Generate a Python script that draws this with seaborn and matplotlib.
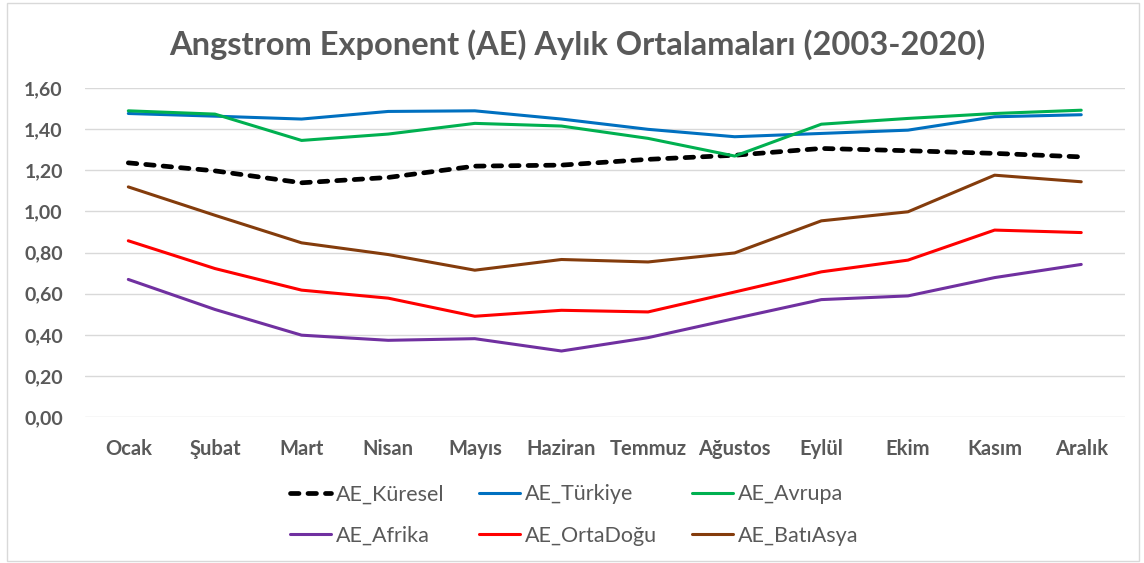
import seaborn as sns
import matplotlib.pyplot as plt
import matplotlib.patches as mpatches
import pandas as pd

months = ['Ocak', 'Şubat', 'Mart', 'Nisan', 'Mayıs', 'Haziran', 'Temmuz',
          'Ağustos', 'Eylül', 'Ekim', 'Kasım', 'Aralık']
kuresel = [1.236, 1.197, 1.139, 1.165, 1.220, 1.225, 1.253, 1.273, 1.306, 1.295, 1.282, 1.265]
turkiye = [1.476, 1.463, 1.449, 1.486, 1.489, 1.449, 1.399, 1.363, 1.379, 1.395, 1.460, 1.470]
avrupa = [1.489, 1.473, 1.345, 1.376, 1.428, 1.415, 1.355, 1.269, 1.424, 1.452, 1.476, 1.492]
afrika = [0.669, 0.523, 0.398, 0.373, 0.381, 0.321, 0.386, 0.479, 0.571, 0.589, 0.678, 0.742]
ortadogu = [0.857, 0.722, 0.617, 0.578, 0.490, 0.519, 0.511, 0.608, 0.706, 0.763, 0.909, 0.897]
batiasya = [1.119, 0.981, 0.847, 0.790, 0.714, 0.766, 0.754, 0.798, 0.954, 0.998, 1.176, 1.144]

series = {
    'AE_Küresel': kuresel,
    'AE_Türkiye': turkiye,
    'AE_Avrupa': avrupa,
    'AE_Afrika': afrika,
    'AE_OrtaDoğu': ortadogu,
    'AE_BatıAsya': batiasya,
}
colors = {
    'AE_Küresel': '#000000',
    'AE_Türkiye': '#0070C0',
    'AE_Avrupa': '#00B050',
    'AE_Afrika': '#7030A0',
    'AE_OrtaDoğu': '#FF0000',
    'AE_BatıAsya': '#843C0C',
}

sns.set_style('white')
plt.rcParams['font.family'] = ['Lato', 'DejaVu Sans']
grey = '#595959'

fig = plt.figure(figsize=(11.44, 5.63), dpi=100)
ax = fig.add_axes([0.0743, 0.2593, 0.9087, 0.5844])

for name, vals in series.items():
    df = pd.DataFrame({'ay': range(len(months)), 'deger': vals})
    if name == 'AE_Küresel':
        sns.lineplot(data=df, x='ay', y='deger', ax=ax, color=colors[name],
                     linewidth=3.4, label=name, linestyle=(0, (1.8, 1.9)),
                     dash_capstyle='round')
    else:
        sns.lineplot(data=df, x='ay', y='deger', ax=ax, color=colors[name],
                     linewidth=2.2, label=name)

ax.set_xlim(-0.5, 11.5)
ax.set_ylim(0, 1.6)
ax.set_yticks([i * 0.2 for i in range(9)])
ax.set_yticklabels([f'{i * 0.2:.2f}'.replace('.', ',') for i in range(9)])
ax.set_xticks(range(len(months)))
ax.set_xticklabels(months)
ax.grid(axis='y', color='#D9D9D9', linewidth=1)
ax.set_axisbelow(True)
for s in ax.spines.values():
    s.set_visible(False)
ax.tick_params(axis='both', length=0, labelcolor=grey)
ax.tick_params(axis='y', pad=16, labelsize=14)
ax.tick_params(axis='x', pad=16, labelsize=14.5)
for lab in ax.get_xticklabels() + ax.get_yticklabels():
    lab.set_fontweight('bold')
ax.set_xlabel('')
ax.set_ylabel('')

ax.get_legend().remove()
handles, labels = ax.get_legend_handles_labels()
order = [0, 3, 1, 4, 2, 5]
fig.legend([handles[i] for i in order], [labels[i] for i in order], ncol=3, loc='center',
           bbox_to_anchor=(0.502, 0.085), frameon=False, fontsize=15.5, labelcolor=grey,
           handlelength=1.9, handletextpad=0.25, columnspacing=1.6, labelspacing=1.0)

fig.suptitle('Angstrom Exponent (AE) Aylık Ortalamaları (2003-2020)', x=0.505, y=0.948,
             fontsize=23.5, fontweight='bold', color=grey)

fig.patches.append(mpatches.Rectangle((0.006, 0.004), 0.99, 0.99, transform=fig.transFigure,
                                      fill=False, edgecolor='#D9D9D9', linewidth=1))

fig.savefig('out.png', dpi=100)
